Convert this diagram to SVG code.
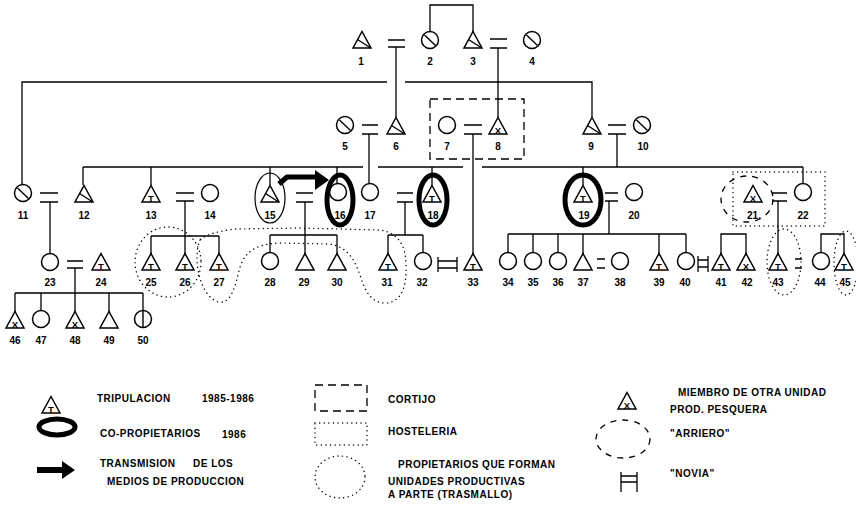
<svg xmlns="http://www.w3.org/2000/svg" xmlns:xlink="http://www.w3.org/1999/xlink" width="856" height="506" viewBox="0 0 856 506">
<style>
.ln{stroke:#000;stroke-width:1.3;fill:none}
.sym{fill:#fff;stroke:#000;stroke-width:1.5}
.slash{stroke:#000;stroke-width:1.4}
.lbl{font-family:"Liberation Sans",Arial,sans-serif;font-weight:bold;font-size:10px;text-anchor:middle;fill:#000}
.mk{font-family:"Liberation Sans",Arial,sans-serif;font-weight:bold;font-size:9.5px;text-anchor:middle;fill:#000}
.leg{font-family:"Liberation Sans",Arial,sans-serif;font-weight:bold;font-size:10px;letter-spacing:0.5px;fill:#000}
.own{fill:none;stroke:#000;stroke-width:5}
.dot{fill:none;stroke:#000;stroke-width:1.4;stroke-dasharray:0.1 4.5;stroke-linecap:round}
.dash{fill:none;stroke:#000;stroke-width:1.3;stroke-dasharray:8 5}
.arr{fill:none;stroke:#000;stroke-width:1.3;stroke-dasharray:6 6}
</style>
<defs>
<path id="tri" class="sym" d="M0,-8.5 L9,8 L-9,8 Z"/>
<circle id="cir" class="sym" r="8.5"/>
<g id="triD"><use xlink:href="#tri"/><line class="slash" x1="-4.5" y1="-0.5" x2="8" y2="7.5"/></g>
<g id="cirD"><use xlink:href="#cir"/><line class="slash" x1="-5.5" y1="-5" x2="5.5" y2="5.5"/></g>
<g id="triT"><use xlink:href="#tri"/><text class="mk" x="0" y="7.5">T</text></g>
<g id="triX"><use xlink:href="#tri"/><text class="mk" x="0" y="7.5">X</text></g>
</defs>
<rect width="856" height="506" fill="#fff"/>

<!-- group outlines -->
<g id="outlines">
<rect class="dash" x="430" y="99" width="94" height="60"/>
<rect class="dot" x="733" y="172" width="92" height="54"/>
<ellipse class="dot" cx="168" cy="262" rx="33" ry="35"/>
<path class="dot" d="M200,240 C193,255 198,295 218,302 C235,305 236,275 242,262 C248,250 258,244 280,243 L330,244 C350,248 355,262 360,275 C365,292 372,303 385,303 C402,303 407,285 406,265 C406,245 398,233 380,230 L300,228 L235,229 C220,231 206,234 200,240 Z"/>
<ellipse class="dot" cx="784" cy="262" rx="17" ry="33"/>
<ellipse class="dot" cx="846" cy="263" rx="12" ry="32"/>
<ellipse class="arr" cx="747" cy="199" rx="26" ry="23"/>
<ellipse fill="none" stroke="#000" stroke-width="1.2" cx="270" cy="198" rx="15" ry="25"/>
</g>

<!-- connectors -->
<g id="connectors" class="ln">
<path d="M430,32 V5 H473 V32"/>
<path d="M388,40 H405 M388,47 H405 M396,47 V117"/>
<path d="M490,39 H507 M490,48 H507 M498,48 V117"/>
<path d="M22,185 V82 H387 M405,82 H592 V117"/>
<path d="M362,125 H378 M362,134 H378 M369,134 V184"/>
<path d="M464,125 H482 M464,134 H482 M473,134 V254"/>
<path d="M608,125 H626 M608,134 H626 M617,134 V167"/>
<path d="M83,167 H363 M378,167 H463 M482,167 H803"/>
<path d="M83,167 V185 M151,167 V185 M270,167 V185 M337,167 V184 M432,167 V185 M583,167 V185 M803,167 V184"/>
<path d="M40,193 H58 M40,202 H58 M50,202 V253"/>
<path d="M176,193 H194 M176,201 H194 M185,201 V254 M151,236 H219 M151,236 V254 M219,236 V254"/>
<path d="M296,193 H313 M296,202 H313 M305,202 V254 M270,235 H337 M270,235 V253 M337,235 V254"/>
<path d="M397,193 H413 M397,202 H413 M405,202 V235 M388,235 H423 M388,235 V254 M423,235 V253"/>
<path d="M605,193 H618 M605,201 H618 M609,201 V234 M508,234 H686 M508,234 V253 M533,234 V253 M558,234 V253 M583,234 V254 M659,234 V254 M686,234 V253"/>
<path d="M772,193 H787 M772,201 H787 M778,201 V254"/>
<path d="M67,261 H83 M67,268 H83 M75,268 V293 M15,293 H143 M15,293 V312 M41,293 V311 M75,293 V312 M109,293 V312 M143,293 V311"/>
<path d="M597,259 H605 M597,268 H605"/>
<path d="M795,259 H802 M795,268 H802"/>
<path d="M721,254 V234 H746 V254"/>
<path d="M821,253 V234 H844 V254"/>
<path d="M438,257 V272 M457,257 V272 M438,261 H457 M438,268 H457"/>
<path d="M698,256 V272 M708,256 V272 M698,260 H708 M698,267 H708"/>
</g>

<!-- nodes -->
<g id="n1"><use xlink:href="#triD" x="362" y="40"/><text class="lbl" x="361" y="65">1</text></g>
<g id="n2"><use xlink:href="#cirD" x="430" y="40"/><text class="lbl" x="430" y="65">2</text></g>
<g id="n3"><use xlink:href="#triD" x="473" y="40"/><text class="lbl" x="473" y="65">3</text></g>
<g id="n4"><use xlink:href="#cirD" x="532" y="40"/><text class="lbl" x="532" y="65">4</text></g>
<g id="n5"><use xlink:href="#cirD" x="345" y="125"/><text class="lbl" x="345" y="150">5</text></g>
<g id="n6"><use xlink:href="#triD" x="396" y="126"/><text class="lbl" x="396" y="150">6</text></g>
<g id="n7"><use xlink:href="#cir" x="447" y="125"/><text class="lbl" x="447" y="150">7</text></g>
<g id="n8"><use xlink:href="#triX" x="498" y="126"/><text class="lbl" x="498" y="150">8</text></g>
<g id="n9"><use xlink:href="#triD" x="592" y="126"/><text class="lbl" x="591" y="150">9</text></g>
<g id="n10"><use xlink:href="#cirD" x="642" y="125"/><text class="lbl" x="643" y="150">10</text></g>

<g id="n11"><use xlink:href="#cirD" x="23" y="193"/><text class="lbl" x="23" y="219">11</text></g>
<g id="n12"><use xlink:href="#triD" x="84" y="194"/><text class="lbl" x="84" y="219">12</text></g>
<g id="n13"><use xlink:href="#triT" x="151" y="194"/><text class="lbl" x="151" y="219">13</text></g>
<g id="n14"><use xlink:href="#cir" x="210" y="193"/><text class="lbl" x="210" y="219">14</text></g>
<g id="n15"><use xlink:href="#triD" x="270" y="194"/><text class="lbl" x="270" y="219">15</text></g>
<g id="n16"><use xlink:href="#cir" x="338" y="192"/><text class="lbl" x="340" y="219">16</text></g>
<g id="n17"><use xlink:href="#cir" x="370" y="192"/><text class="lbl" x="370" y="219">17</text></g>
<g id="n18"><use xlink:href="#triT" x="432" y="194"/><text class="lbl" x="433" y="219">18</text></g>
<g id="n19"><use xlink:href="#triT" x="583" y="194"/><text class="lbl" x="584" y="219">19</text></g>
<g id="n20"><use xlink:href="#cir" x="634" y="192"/><text class="lbl" x="634" y="219">20</text></g>
<g id="n21"><use xlink:href="#triX" x="753" y="194"/><text class="lbl" x="754" y="219">21.</text></g>
<g id="n22"><use xlink:href="#cir" x="803" y="192"/><text class="lbl" x="803" y="219">22</text></g>

<g id="n23"><use xlink:href="#cir" x="50" y="262"/><text class="lbl" x="50" y="286">23</text></g>
<g id="n24"><use xlink:href="#triT" x="101" y="262"/><text class="lbl" x="101" y="286">24</text></g>
<g id="n25"><use xlink:href="#triT" x="151" y="262"/><text class="lbl" x="151" y="286">25</text></g>
<g id="n26"><use xlink:href="#triT" x="185" y="262"/><text class="lbl" x="185" y="286">26</text></g>
<g id="n27"><use xlink:href="#triT" x="219" y="262"/><text class="lbl" x="219" y="286">27</text></g>
<g id="n28"><use xlink:href="#cir" x="270" y="261"/><text class="lbl" x="270" y="286">28</text></g>
<g id="n29"><use xlink:href="#tri" x="305" y="262"/><text class="lbl" x="304" y="286">29</text></g>
<g id="n30"><use xlink:href="#tri" x="337" y="262"/><text class="lbl" x="337" y="286">30</text></g>
<g id="n31"><use xlink:href="#triT" x="388" y="262"/><text class="lbl" x="387" y="286">31</text></g>
<g id="n32"><use xlink:href="#cir" x="423" y="261"/><text class="lbl" x="422" y="286">32</text></g>
<g id="n33"><use xlink:href="#triT" x="473" y="262"/><text class="lbl" x="473" y="286">33</text></g>
<g id="n34"><use xlink:href="#cir" x="508" y="261"/><text class="lbl" x="508" y="286">34</text></g>
<g id="n35"><use xlink:href="#cir" x="533" y="261"/><text class="lbl" x="533" y="286">35</text></g>
<g id="n36"><use xlink:href="#cir" x="558" y="261"/><text class="lbl" x="558" y="286">36</text></g>
<g id="n37"><use xlink:href="#tri" x="583" y="262"/><text class="lbl" x="583" y="286">37</text></g>
<g id="n38"><use xlink:href="#cir" x="620" y="261"/><text class="lbl" x="620" y="286">38</text></g>
<g id="n39"><use xlink:href="#triT" x="659" y="262"/><text class="lbl" x="659" y="286">39</text></g>
<g id="n40"><use xlink:href="#cir" x="686" y="261"/><text class="lbl" x="685" y="286">40</text></g>
<g id="n41"><use xlink:href="#triT" x="721" y="262"/><text class="lbl" x="721" y="286">41</text></g>
<g id="n42"><use xlink:href="#triX" x="746" y="262"/><text class="lbl" x="747" y="286">42</text></g>
<g id="n43"><use xlink:href="#triT" x="778" y="262"/><text class="lbl" x="778" y="286">43</text></g>
<g id="n44"><use xlink:href="#cir" x="821" y="261"/><text class="lbl" x="820" y="286">44</text></g>
<g id="n45"><use xlink:href="#triT" x="844" y="262"/><text class="lbl" x="845" y="286">45</text></g>

<g id="n46"><use xlink:href="#triX" x="15" y="320"/><text class="lbl" x="15" y="344">46</text></g>
<g id="n47"><use xlink:href="#cir" x="41" y="319"/><text class="lbl" x="41" y="344">47</text></g>
<g id="n48"><use xlink:href="#triX" x="75" y="320"/><text class="lbl" x="75" y="344">48</text></g>
<g id="n49"><use xlink:href="#tri" x="109" y="320"/><text class="lbl" x="109" y="344">49</text></g>
<g id="n50"><use xlink:href="#cir" x="143" y="319"/><line class="slash" x1="143" y1="310.5" x2="143" y2="327.5"/><text class="lbl" x="143" y="344">50</text></g>

<!-- co-owner ovals and transmission arrow -->
<g id="coowners">
<ellipse class="own" cx="340" cy="200" rx="13" ry="25"/>
<ellipse class="own" cx="433" cy="200" rx="14" ry="25"/>
<ellipse class="own" cx="583" cy="200" rx="18" ry="25"/>
</g>
<g id="transmission">
<path d="M279,184 L287,177 L316,177" fill="none" stroke="#000" stroke-width="5" stroke-linejoin="round"/>
<path d="M315,170 L329,180 L315,190 Z" fill="#000"/>
</g>

<!-- legend -->
<g id="legend">
<use xlink:href="#triT" x="51" y="405"/>
<text class="leg" x="97" y="402">TRIPULACION</text>
<text class="leg" x="202" y="402">1985-1986</text>
<ellipse class="own" cx="57" cy="427" rx="18" ry="8"/>
<text class="leg" x="100" y="437">CO-PROPIETARIOS</text>
<text class="leg" x="222" y="438">1986</text>
<path d="M37,470 H64" stroke="#000" stroke-width="6"/>
<path d="M62,461 L75,470 L62,479 Z" fill="#000"/>
<text class="leg" x="100" y="467">TRANSMISION</text>
<text class="leg" x="193" y="467">DE LOS</text>
<text class="leg" x="107" y="485">MEDIOS DE PRODUCCION</text>
<rect class="dash" x="315" y="385" width="52" height="26"/>
<text class="leg" x="388" y="403">CORTIJO</text>
<rect class="dot" x="315" y="423" width="52" height="22"/>
<text class="leg" x="388" y="435">HOSTELERIA</text>
<ellipse class="dot" cx="340" cy="477" rx="25" ry="21"/>
<text class="leg" x="398" y="468">PROPIETARIOS QUE FORMAN</text>
<text class="leg" x="388" y="485">UNIDADES PRODUCTIVAS</text>
<text class="leg" x="388" y="498">A PARTE (TRASMALLO)</text>
<use xlink:href="#triX" x="627" y="401"/>
<text class="leg" x="678" y="396">MIEMBRO DE OTRA UNIDAD</text>
<text class="leg" x="670" y="413">PROD. PESQUERA</text>
<ellipse class="arr" cx="623" cy="439" rx="27" ry="19"/>
<text class="leg" x="670" y="437">"ARRIERO"</text>
<path class="ln" d="M621,472 V492 M637,472 V492 M621,476 H637 M621,482 H637"/>
<text class="leg" x="670" y="477">"NOVIA"</text>
</g>
</svg>
